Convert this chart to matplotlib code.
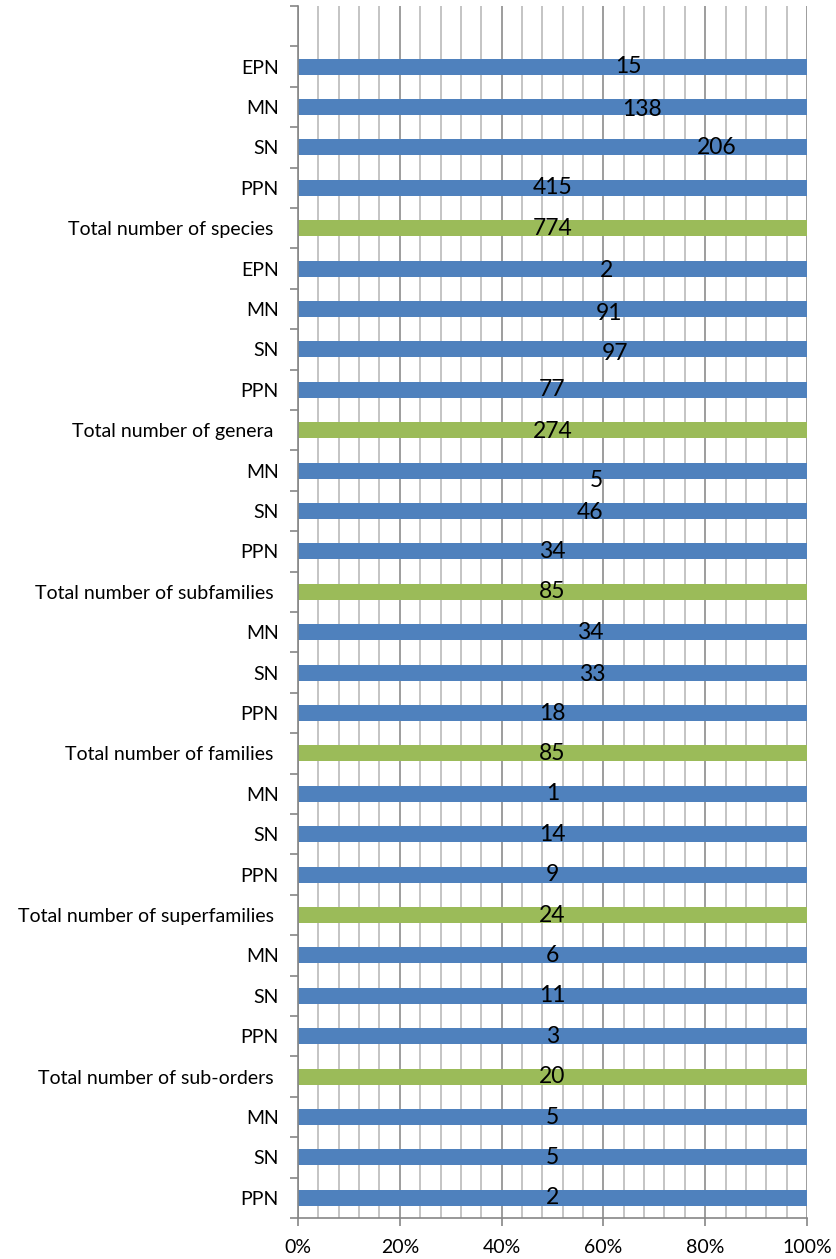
import matplotlib.pyplot as plt
from matplotlib.ticker import MultipleLocator, FixedLocator, PercentFormatter

# categories from bottom to top (the top slot of the chart is empty)
categories = ['PPN', 'SN', 'MN', 'Total number of sub-orders ',
              'PPN', 'SN', 'MN', 'Total number of superfamilies ',
              'PPN', 'SN', 'MN', 'Total number of families ',
              'PPN', 'SN', 'MN', 'Total number of subfamilies ',
              'PPN', 'SN', 'MN', 'Total number of genera ',
              'PPN', 'SN', 'MN', 'EPN', 'Total number of species ',
              'PPN', 'SN', 'MN', 'EPN', '']
counts = [2, 5, 5, 20,
          3, 11, 6, 24,
          9, 14, 1, 85,
          18, 33, 34, 85,
          34, 46, 5, 274,
          77, 97, 91, 2, 774,
          415, 206, 138, 15, None]
# where each data label sits along the bar (share of the 100% bar)
label_x = [0.5, 0.5, 0.5, 0.5,
           0.5, 0.5, 0.5, 0.5,
           0.5, 0.5, 0.5, 0.5,
           0.5, 0.578, 0.574, 0.5,
           0.5, 0.574, 0.587, 0.5,
           0.5, 0.623, 0.611, 0.607, 0.5,
           0.5, 0.823, 0.676, 0.65, None]
label_dy = [0, 0, 0, 0,
            0, 0, 0, 0,
            0, 0, 0, 0,
            0, 0.05, 0, 0,
            0, 0.03, 0.25, 0.02,
            0, 0.1, 0.12, 0.05, 0,
            0, 0, 0.05, 0, 0]

blue = '#4F81BD'
green = '#9BBB59'

plt.rcParams['font.family'] = ['Lato', 'DejaVu Sans']

fig = plt.figure(figsize=(8.36, 12.59), dpi=100)
ax = fig.add_axes([298 / 836, 1 - 1218 / 1259, 509 / 836, (1218 - 6) / 1259])

ypos = list(range(len(categories)))
for y, cat, n in zip(ypos, categories, counts):
    if n is None:
        continue
    color = green if cat.startswith('Total') else blue
    # every bar is one series stretched to 100%
    ax.barh(y, 1.0, height=0.4, color=color, zorder=2)

for y, n, lx, dy in zip(ypos, counts, label_x, label_dy):
    if n is None:
        continue
    ax.text(lx, y - dy, str(n), ha='center', va='center',
            fontsize=16.5, color='black', zorder=3)

ax.set_xlim(0, 1)
ax.set_ylim(-0.5, len(categories) - 0.5)

# gridlines: light every 4%, darker every 20%
ax.xaxis.set_major_locator(MultipleLocator(0.2))
ax.xaxis.set_minor_locator(MultipleLocator(0.04))
ax.xaxis.set_major_formatter(PercentFormatter(1.0, decimals=0))
ax.grid(axis='x', which='minor', color='#c4c4c4', linewidth=1.4, zorder=0)
ax.grid(axis='x', which='major', color='#8c8c8c', linewidth=1.2, zorder=1)
ax.set_axisbelow(True)

# category boundaries get the tick marks, labels sit at the centres
ax.yaxis.set_major_locator(FixedLocator([i - 0.5 for i in range(len(categories) + 1)]))
ax.yaxis.set_major_formatter(plt.NullFormatter())
ax.yaxis.set_minor_locator(FixedLocator(ypos))
ax.set_yticklabels(categories, minor=True)

ax.tick_params(axis='y', which='major', length=6, color='#868686', width=1.2, direction='out')
ax.tick_params(axis='y', which='minor', length=0, pad=14, labelsize=14)
ax.tick_params(axis='x', which='major', length=6, color='#868686', width=1.2,
               direction='out', labelsize=14, pad=9)
ax.tick_params(axis='x', which='minor', length=0)

for side in ['top', 'right']:
    ax.spines[side].set_visible(False)
for side in ['left', 'bottom']:
    ax.spines[side].set_color('#868686')
    ax.spines[side].set_linewidth(1.2)

fig.savefig('out.png', dpi=100, facecolor='white')
